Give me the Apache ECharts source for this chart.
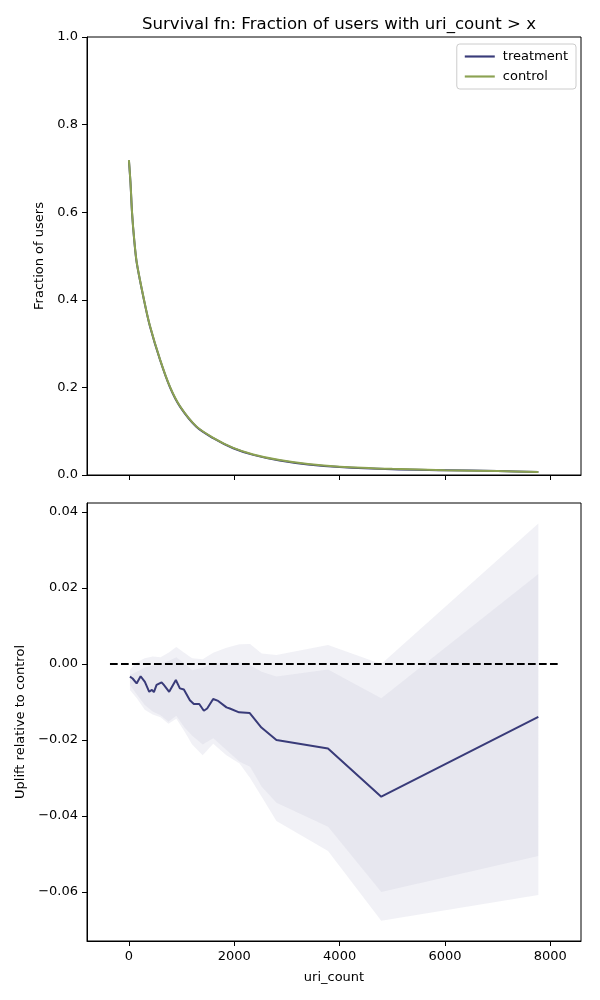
<!DOCTYPE html>
<html>
<head>
<meta charset="utf-8">
<script src="https://cdn.jsdelivr.net/npm/echarts@6/dist/echarts.min.js"></script>
<style>
	html, body { margin: 0; padding: 0; background: #fff; }
	#main { width: 600px; height: 1000px; }
</style>
</head>
<body>
<div id="main"></div>
<script>
// survival curve (top)
var survX = [0, 30, 60, 100, 150, 290, 400, 590, 780, 970, 1280, 1600, 1980, 2360, 2860, 3400, 4000, 5000, 6000, 7000, 7772];
var treatmentSurv = [0.718, 0.666, 0.597, 0.537, 0.483, 0.397, 0.339, 0.263, 0.200, 0.156, 0.110, 0.084, 0.061, 0.046, 0.033, 0.024, 0.018, 0.013, 0.011, 0.009, 0.007];
var controlSurv = [0.719, 0.667, 0.598, 0.538, 0.484, 0.398, 0.340, 0.264, 0.201, 0.157, 0.111, 0.085, 0.062, 0.047, 0.034, 0.025, 0.019, 0.014, 0.011, 0.009, 0.007];

// uplift (bottom)
var upliftX = [19, 70, 146, 222, 303, 385, 436, 474, 525, 620, 663, 764, 891, 967, 1043, 1157, 1232, 1335, 1422, 1485, 1599, 1694, 1852, 1915, 2091, 2294, 2515, 2800, 3779, 4790, 7772];
var upliftMid = [-0.0033, -0.0038, -0.0051, -0.0032, -0.0047, -0.0073, -0.0068, -0.0074, -0.0055, -0.0048, -0.0055, -0.0073, -0.0042, -0.0064, -0.0067, -0.0095, -0.0105, -0.0105, -0.0123, -0.0117, -0.0092, -0.0097, -0.0114, -0.0117, -0.0127, -0.0129, -0.0167, -0.0200, -0.0222, -0.0349, -0.0139];

var bandX = [19, 150, 300, 450, 600, 750, 900, 1050, 1200, 1400, 1600, 1850, 2100, 2300, 2520, 2800, 3780, 4790, 7772];
var outerHi = [-0.0015, 0.0005, 0.0015, 0.0020, 0.0018, 0.0030, 0.0045, 0.0030, 0.0015, 0.0013, 0.0030, 0.0043, 0.0052, 0.0053, 0.0028, 0.0024, 0.0050, 0.0000, 0.0370];
var innerHi = [-0.0029, -0.0020, -0.0009, -0.0004, 0.0000, 0.0008, 0.0018, 0.0002, -0.0016, -0.0010, 0.0002, 0.0002, 0.0004, -0.0003, -0.0020, -0.0033, -0.0014, -0.0090, 0.0237];
var innerLo = [-0.0055, -0.0080, -0.0108, -0.0125, -0.0135, -0.0152, -0.0136, -0.0166, -0.0189, -0.0212, -0.0195, -0.0226, -0.0257, -0.0270, -0.0323, -0.0365, -0.0428, -0.0600, -0.0505];
var outerLo = [-0.0068, -0.0090, -0.0120, -0.0133, -0.0140, -0.0157, -0.0144, -0.0176, -0.0212, -0.0240, -0.0210, -0.0240, -0.0262, -0.0300, -0.0349, -0.0413, -0.0492, -0.0676, -0.0608];

var baselineX = [-360, 8150];
var baselineY = [0, 0];

var xTicks = [0, 2000, 4000, 6000, 8000];
var upliftTicks = [-0.06, -0.04, -0.02, 0, 0.02, 0.04];

var FONT = 'DejaVu Sans';
var NAVY = '#393b79';
var OLIVE = '#8ca252';
var LINE_ICON = 'path://M0,0L28,0L28,2L0,2Z';

function zip(a, b){
	var out = [];
	for(var i=0;i<a.length;i++){
		out.push([a[i], b[i]]);
	}
	return out;
}

function bandSeries(hi, lo, fill){
	return {
		type: 'custom',
		xAxisIndex: 1,
		yAxisIndex: 1,
		silent: true,
		z: 1,
		data: [[bandX[0], hi[0]]],
		renderItem: function(params, api){
			var pts = [];
			for(var i=0;i<bandX.length;i++){
				pts.push(api.coord([bandX[i], hi[i]]));
			}
			for(var j=bandX.length-1;j>=0;j--){
				pts.push(api.coord([bandX[j], lo[j]]));
			}
			return {
				type: 'polygon',
				shape: { points: pts },
				style: { fill: fill }
			};
		}
	};
}

function xAxisCfg(gridIndex, showLabels){
	return {
		type: 'value',
		gridIndex: gridIndex,
		min: -796,
		max: 8582,
		axisLine: { show: true, onZero: false, lineStyle: { color: '#000', width: 1 } },
		axisTick: { show: true, length: 5, lineStyle: { color: '#000' }, customValues: xTicks },
		axisLabel: { show: showLabels, margin: 9, color: '#000', fontFamily: FONT, fontSize: 13, customValues: xTicks,
			formatter: function(v){ return String(v); } },
		splitLine: { show: false },
		name: showLabels ? 'uri_count' : '',
		nameLocation: 'middle',
		nameGap: 30,
		nameTextStyle: { color: '#000', fontFamily: FONT, fontSize: 13 }
	};
}

function fmtUplift(v){
	if(Math.abs(v) < 1e-9) return '0.00';
	return v < 0 ? '\u2212' + Math.abs(v).toFixed(2) : v.toFixed(2);
}

var chart = echarts.init(document.getElementById('main'), null, { renderer: 'canvas' });
var option = {
	animation: false,
	backgroundColor: '#fff',
	title: {
		text: 'Survival fn: Fraction of users with uri_count > x',
		left: 334,
		top: 11,
		textAlign: 'center',
		textStyle: { color: '#000', fontFamily: FONT, fontSize: 16.6, fontWeight: 'normal' }
	},
	legend: {
		right: 24,
		top: 44,
		orient: 'vertical',
		data: [
			{ name: 'treatment', icon: LINE_ICON },
			{ name: 'control', icon: LINE_ICON }
		],
		backgroundColor: '#fff',
		borderColor: '#cccccc',
		borderWidth: 1,
		borderRadius: 3,
		padding: [6, 8, 6, 8],
		itemWidth: 30,
		itemHeight: 14,
		itemGap: 7,
		textStyle: { color: '#000', fontFamily: FONT, fontSize: 13, padding: [0, 0, 0, 3] }
	},
	grid: [
		{ left: 87, top: 37, width: 494, height: 438, show: true, borderColor: '#000', borderWidth: 1 },
		{ left: 87, top: 503, width: 494, height: 438, show: true, borderColor: '#000', borderWidth: 1 }
	],
	xAxis: [xAxisCfg(0, false), xAxisCfg(1, true)],
	yAxis: [
		{
			type: 'value',
			gridIndex: 0,
			min: 0,
			max: 1,
			interval: 0.2,
			axisLine: { show: true, onZero: false, lineStyle: { color: '#000' } },
			axisTick: { show: true, length: 5, lineStyle: { color: '#000' } },
			axisLabel: { margin: 9, color: '#000', fontFamily: FONT, fontSize: 13, showMinLabel: true, showMaxLabel: true,
				formatter: function(v){ return v.toFixed(1); } },
			splitLine: { show: false },
			name: 'Fraction of users',
			nameLocation: 'middle',
			nameGap: 36,
			nameTextStyle: { color: '#000', fontFamily: FONT, fontSize: 13 }
		},
		{
			type: 'value',
			gridIndex: 1,
			min: -0.0729,
			max: 0.0424,
			axisLine: { show: true, onZero: false, lineStyle: { color: '#000' } },
			axisTick: { show: true, length: 5, lineStyle: { color: '#000' }, customValues: upliftTicks },
			axisLabel: { margin: 9, color: '#000', fontFamily: FONT, fontSize: 13, customValues: upliftTicks, formatter: fmtUplift },
			splitLine: { show: false },
			name: 'Uplift relative to control',
			nameLocation: 'middle',
			nameGap: 55,
			nameTextStyle: { color: '#000', fontFamily: FONT, fontSize: 13 }
		}
	],
	series: [
		{
			name: 'treatment',
			type: 'line',
			xAxisIndex: 0,
			yAxisIndex: 0,
			data: zip(survX, treatmentSurv),
			smooth: 0.3,
			symbol: 'none',
			color: NAVY,
			lineStyle: { color: NAVY, width: 2 },
			z: 3
		},
		{
			name: 'control',
			type: 'line',
			xAxisIndex: 0,
			yAxisIndex: 0,
			data: zip(survX, controlSurv),
			smooth: 0.3,
			symbol: 'none',
			color: OLIVE,
			lineStyle: { color: OLIVE, width: 2 },
			z: 4
		},
		bandSeries(outerHi, outerLo, 'rgba(57,59,121,0.07)'),
		bandSeries(innerHi, innerLo, 'rgba(57,59,121,0.05)'),
		{
			type: 'line',
			xAxisIndex: 1,
			yAxisIndex: 1,
			data: zip(baselineX, baselineY),
			symbol: 'none',
			silent: true,
			lineStyle: { color: '#000', width: 2, type: [7.7, 3.3] },
			z: 3
		},
		{
			type: 'line',
			xAxisIndex: 1,
			yAxisIndex: 1,
			data: zip(upliftX, upliftMid),
			symbol: 'none',
			silent: true,
			lineStyle: { color: NAVY, width: 2 },
			z: 4
		}
	]
};
chart.setOption(option);
</script>
</body>
</html>
